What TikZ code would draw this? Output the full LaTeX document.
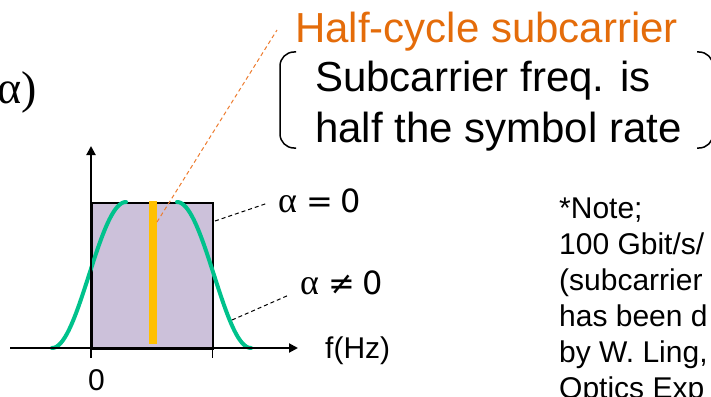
\documentclass[tikz,border=0pt]{standalone}
\usepackage{fontspec}
\setmainfont{Liberation Sans}
\newfontfamily\greekfont{Liberation Serif}
\newfontfamily\symfont{DejaVu Sans}
\usetikzlibrary{arrows.meta}
\definecolor{lav}{HTML}{CCC1DA}
\definecolor{bar}{HTML}{FFC000}
\definecolor{grn}{HTML}{00C28C}
\definecolor{orTxt}{HTML}{E46C0A}
\definecolor{orLine}{HTML}{ED7D31}
\begin{document}
\begin{tikzpicture}[x=1pt,y=-1pt,
  lbl/.style={inner sep=0pt,anchor=base west},
  big/.style={lbl,font=\fontsize{42}{50}\selectfont},
  mid/.style={lbl,font=\fontsize{30}{36}\selectfont},
  alab/.style={lbl,font=\fontsize{32}{38}\selectfont},
  axis/.style={line width=2pt,-{Triangle[length=9pt,width=9pt]}},
  curve/.style={grn,line width=4pt,line cap=round},
  brk/.style={line width=1.5pt,rounded corners=14pt},
  lead/.style={line width=1pt,dash pattern=on 4pt off 3pt}]
\useasboundingbox (0,0) rectangle (711,396);
\clip (0,0) rectangle (711,396);
% spectrum box
\node[draw=black,line width=1.5pt,fill=lav,minimum width=121pt,minimum height=146pt,inner sep=0pt,anchor=north west] (box) at (91,202) {};
% subcarrier bar
\node[fill=bar,minimum width=8pt,minimum height=143pt,inner sep=0pt,anchor=north] (bar) at (153,201) {};
% raised cosine curves
\draw[curve] plot[domain=0:180,samples=50] ({52+74*\x/180},{348-73*(1-cos(\x))});
\draw[curve] plot[domain=0:180,samples=50] ({177+74*\x/180},{348-73*(1+cos(\x))});
% axes
\coordinate (xs) at (10,348);
\coordinate (xe) at (298,348);
\coordinate (ys) at (91,358);
\coordinate (ye) at (91,146);
\draw[axis] (xs) -- (xe);
\draw[axis] (ys) -- (ye);
\coordinate (t1) at (212,348);
\coordinate (t2) at (212,358);
\draw[line width=1pt] (t1) -- (t2);
% labels
\node[big,anchor=base east] (alp) at (37,103) {\fontsize{46}{50}\selectfont\greekfont α)};
\node[big,text=orTxt] (half) at (295,42) {Half-cycle subcarrier};
\node[big] (l1) at (315,91) {Subcarrier freq. is};
\node[big] (l2) at (315,142) {half the symbol rate};
\node[alab] (a0) at (278,212) {{\greekfont\fontsize{36}{40}\selectfont α}\hspace{9pt}{\symfont =\hspace{8pt}0}};
\node[alab] (a1) at (300,294) {{\greekfont\fontsize{36}{40}\selectfont α}\hspace{9pt}{\symfont ≠\hspace{8pt}0}};
\node[mid] (fhz) at (325,358) {f(Hz)};
\node[mid] (zero) at (88,390) {0};
% brackets
\draw[brk] (296,52) -- (280,52) -- (280,148) -- (296,148);
\draw[brk] (697,52) -- (713,52) -- (713,148) -- (697,148);
% note
\node[mid] (n1) at (559,218) {*Note;};
\node[mid] (n2) at (559,254) {100 Gbit/s/};
\node[mid] (n3) at (559,290) {(subcarrier};
\node[mid] (n4) at (559,326) {has been d};
\node[mid] (n5) at (559,362) {by W. Ling,};
\node[mid] (n6) at (559,398) {Optics Exp};
% leaders
\coordinate (p0) at (215,221);
\coordinate (q0) at (268,203);
\draw[lead] (p0) -- (q0);
\coordinate (p1) at (232,320);
\coordinate (q1) at (289,295);
\draw[lead] (p1) -- (q1);
\coordinate (b1) at (157,222);
\coordinate (b2) at (277,30);
\draw[orLine,line width=1pt,dash pattern=on 4pt off 3pt] (b1) -- (b2);
\end{tikzpicture}
\end{document}
